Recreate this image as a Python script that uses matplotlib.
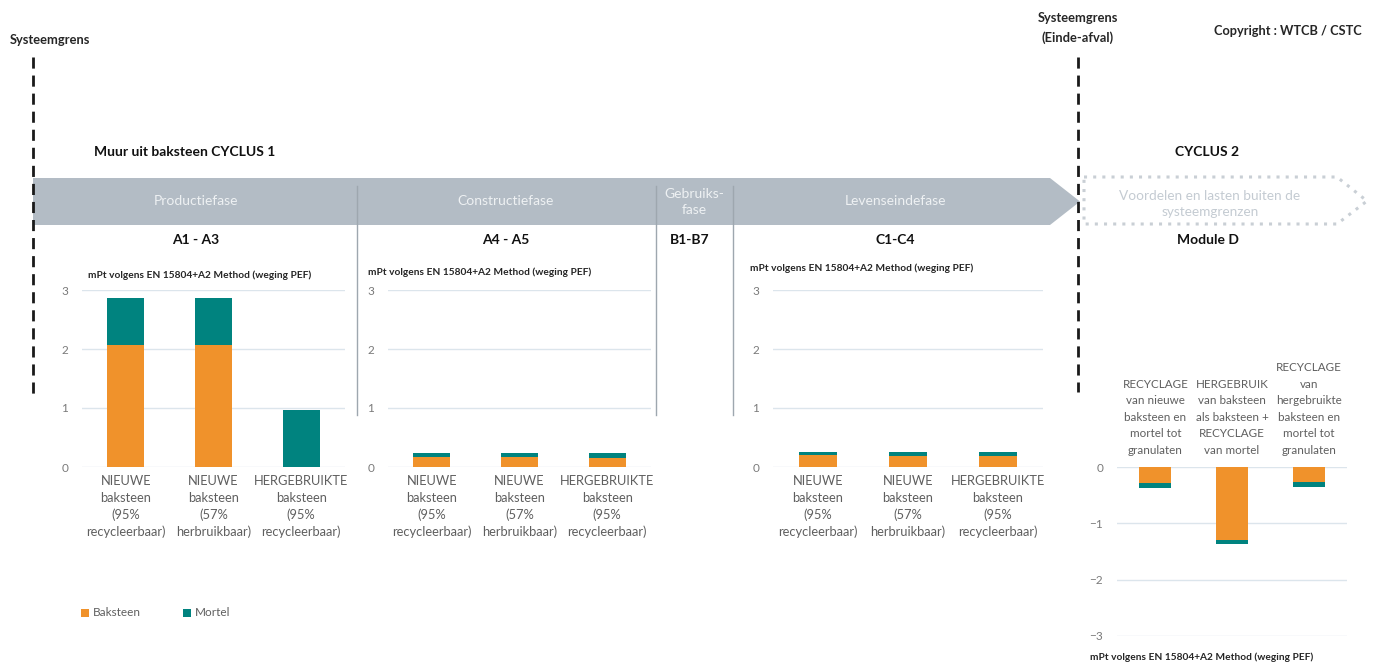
import matplotlib.pyplot as plt
from matplotlib.patches import Polygon, Rectangle
import numpy as np

plt.rcParams['font.family'] = ['Lato', 'DejaVu Sans']

# data (mPt volgens EN 15804+A2, weging PEF)
cats_c1 = ["NIEUWE\nbaksteen\n(95%\nrecycleerbaar)",
           "NIEUWE\nbaksteen\n(57%\nherbruikbaar)",
           "HERGEBRUIKTE\nbaksteen\n(95%\nrecycleerbaar)"]
cats_d = ["RECYCLAGE\nvan nieuwe\nbaksteen en\nmortel tot\ngranulaten",
          "HERGEBRUIK\nvan baksteen\nals baksteen +\nRECYCLAGE\nvan mortel",
          "RECYCLAGE\nvan\nhergebruikte\nbaksteen en\nmortel tot\ngranulaten"]

a13_baksteen = [2.07, 2.07, 0.0]
a13_mortel = [0.79, 0.79, 0.97]
a45_baksteen = [0.17, 0.17, 0.16]
a45_mortel = [0.06, 0.06, 0.07]
c14_baksteen = [0.20, 0.18, 0.18]
c14_mortel = [0.06, 0.07, 0.07]
d_baksteen = [-0.29, -1.30, -0.26]
d_mortel = [-0.08, -0.07, -0.09]

ORANGE = "#f0922b"
TEAL = "#00837f"
GRID = "#dce5ec"
TICK = "#7a7a7a"
LABEL = "#5f5f5f"
DARK = "#262626"

W, H = 1374, 666
fig = plt.figure(figsize=(W / 100, H / 100), dpi=100)

bg = fig.add_axes([0, 0, 1, 1])
bg.set_xlim(0, W)
bg.set_ylim(H, 0)
bg.axis("off")


def px_axes(x0, y0, x1, y1):
    return fig.add_axes([x0 / W, 1 - y1 / H, (x1 - x0) / W, (y1 - y0) / H])


# system boundary lines and top texts
for x, y1 in [(33, 395), (1078, 392)]:
    bg.plot([x, x], [57, y1], color="#1a1a1a", lw=2, ls=(0, (4, 2.5)))
bg.text(10, 40, "Systeemgrens", fontsize=9.3, fontweight="bold", color=DARK, va="center")
bg.text(1078, 28, "Systeemgrens\n(Einde-afval)", fontsize=9.3, fontweight="bold",
        color=DARK, ha="center", va="center", linespacing=1.6)
bg.text(1362, 31, "Copyright : WTCB / CSTC", fontsize=9.2, fontweight="bold",
        color=DARK, ha="right", va="center")
bg.text(94, 152, "Muur uit baksteen CYCLUS 1", fontsize=10, fontweight="bold",
        color="#111111", va="center")
bg.text(1207, 152, "CYCLUS 2", fontsize=10, fontweight="bold",
        color="#111111", ha="center", va="center")

# phase band
band = Polygon([(33, 178), (1050, 178), (1080, 201.5), (1050, 225), (33, 225)],
               closed=True, facecolor="#b3bcc5", edgecolor="none")
bg.add_patch(band)
dotted = Polygon([(1084, 177), (1337, 177), (1367, 201), (1337, 224), (1084, 224)],
                 closed=True, facecolor="none", edgecolor="#c9cfd5", lw=2.2, ls=(0, (1, 2)))
bg.add_patch(dotted)
for x in [357, 656, 733]:
    bg.plot([x, x], [186, 415], color="#9ea7af", lw=1)

phase_col = "#eef1f3"
bg.text(196, 201, "Productiefase", fontsize=10, color=phase_col, ha="center", va="center")
bg.text(506, 201, "Constructiefase", fontsize=10, color=phase_col, ha="center", va="center")
bg.text(694, 202, "Gebruiks-\nfase", fontsize=10, color=phase_col, ha="center",
        va="center", linespacing=1.45)
bg.text(895, 201, "Levenseindefase", fontsize=10, color=phase_col, ha="center", va="center")
bg.text(1210, 204, "Voordelen en lasten buiten de\nsysteemgrenzen", fontsize=9.8,
        color="#c4cbd2", ha="center", va="center", linespacing=1.45)

for x, s in [(196, "A1 - A3"), (506, "A4 - A5"), (690, "B1-B7"), (895, "C1-C4"),
             (1208, "Module D")]:
    bg.text(x, 240, s, fontsize=10, fontweight="bold", color="#111111",
            ha="center", va="center")

unit = "mPt volgens EN 15804+A2 Method (weging PEF)"
for x, y in [(88, 275), (368, 272), (750, 268), (1090, 657)]:
    bg.text(x, y, unit, fontsize=7.3, fontweight="bold", color=DARK, va="center")

# legend
bg.add_patch(Rectangle((81, 609), 8, 8, facecolor=ORANGE, edgecolor="none"))
bg.text(93, 613, "Baksteen", fontsize=8.5, color=LABEL, va="center")
bg.add_patch(Rectangle((183, 609), 8, 8, facecolor=TEAL, edgecolor="none"))
bg.text(195, 613, "Mortel", fontsize=8.5, color=LABEL, va="center")


def style(ax, ylim, yticks):
    ax.set_xlim(-0.5, 2.5)
    ax.set_ylim(*ylim)
    ax.set_yticks(yticks)
    ax.grid(axis="y", color=GRID, lw=1)
    ax.set_axisbelow(True)
    for sp in ax.spines.values():
        sp.set_visible(False)
    ax.tick_params(length=0, labelsize=8.5, labelcolor=TICK, pad=10)
    ax.patch.set_alpha(0)


def cycle_chart(rect, baksteen, mortel):
    ax = px_axes(*rect)
    x = np.arange(3)
    ax.bar(x, baksteen, width=0.42, color=ORANGE)
    ax.bar(x, mortel, width=0.42, bottom=baksteen, color=TEAL)
    style(ax, (0, 3), [0, 1, 2, 3])
    ax.set_xticks(x)
    ax.set_xticklabels(cats_c1, fontsize=9.3, color=LABEL, linespacing=1.45)
    ax.tick_params(axis="x", pad=6)
    return ax


cycle_chart((82, 290, 345, 467), a13_baksteen, a13_mortel)
cycle_chart((388, 290, 651, 467), a45_baksteen, a45_mortel)
cycle_chart((773, 290, 1043, 467), c14_baksteen, c14_mortel)

axd = px_axes(1117, 467, 1347, 636)
xd = np.arange(3)
axd.bar(xd, d_baksteen, width=0.42, color=ORANGE)
axd.bar(xd, d_mortel, width=0.42, bottom=d_baksteen, color=TEAL)
style(axd, (-3, 0), [-3, -2, -1, 0])
axd.xaxis.tick_top()
axd.set_xticks(xd)
axd.set_xticklabels(cats_d, fontsize=8.4, color=LABEL, linespacing=1.62)
axd.tick_params(axis="x", pad=8)

fig.savefig("out.png", dpi=100)
